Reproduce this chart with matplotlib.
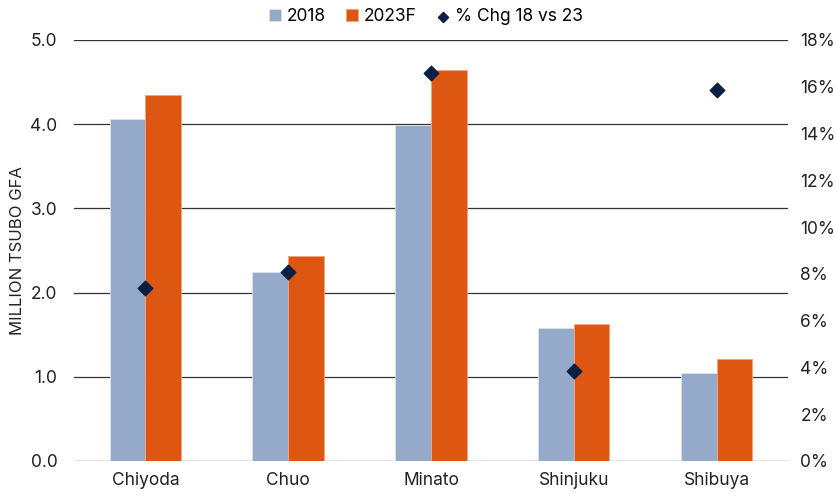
import numpy as np
import matplotlib.pyplot as plt
from matplotlib.ticker import PercentFormatter

# data
wards = ["Chiyoda", "Chuo", "Minato", "Shinjuku", "Shibuya"]
gfa_2018 = [4.06, 2.25, 3.99, 1.58, 1.04]
gfa_2023f = [4.35, 2.43, 4.64, 1.63, 1.21]
pct_chg = [7.4, 8.1, 16.6, 3.85, 15.85]

plt.rcParams["font.family"] = ["Inter", "DejaVu Sans"]
plt.rcParams["font.size"] = 11

fig = plt.figure(figsize=(8.35, 4.98), dpi=100)
ax = fig.add_axes([0.0886, 0.0743, 0.855, 0.8454])
ax2 = ax.twinx()

x = np.arange(len(wards))
w = 0.25
ax.bar(x - w / 2, gfa_2018, w, color="#95A9CB", edgecolor="#dde3ee", linewidth=0.6,
       label="2018", zorder=2)
ax.bar(x + w / 2, gfa_2023f, w, color="#DD5713", edgecolor="#f0a57e", linewidth=0.6,
       label="2023F", zorder=2)
ax2.scatter(x, pct_chg, marker="D", s=55, color="#0B1F44", zorder=3,
            label="% Chg 18 vs 23")

ax.set_xlim(-0.5, len(wards) - 0.5)
ax.set_ylim(0, 5)
ax.set_yticks(np.arange(0, 5.01, 1.0))
ax.set_yticklabels([f"{v:.1f}" for v in np.arange(0, 5.01, 1.0)])
ax2.set_ylim(0, 18)
ax2.set_yticks(np.arange(0, 19, 2))
ax2.yaxis.set_major_formatter(PercentFormatter(decimals=0))

ax.set_xticks(x)
ax.set_xticklabels(wards)
ax.set_ylabel("MILLION TSUBO GFA", color="#222222", fontsize=12, labelpad=4)
ax.grid(axis="y", color="#333333", linewidth=0.9, zorder=0)
ax.set_axisbelow(True)

for a in (ax, ax2):
    for s in a.spines.values():
        s.set_visible(False)
    a.tick_params(length=0, labelsize=12.5, colors="#222222")
ax.tick_params(axis="y", pad=12)
ax.tick_params(axis="x", pad=8)
ax2.tick_params(axis="y", pad=9)

h1, l1 = ax.get_legend_handles_labels()
h2, l2 = ax2.get_legend_handles_labels()
fig.legend(h1 + h2, l1 + l2, loc="upper center", bbox_to_anchor=(0.51, 1.015),
           ncol=3, frameon=False, fontsize=12.5, handlelength=0.7,
           handletextpad=0.3, columnspacing=1.2, markerscale=0.7)

fig.savefig("out.png", dpi=100)
